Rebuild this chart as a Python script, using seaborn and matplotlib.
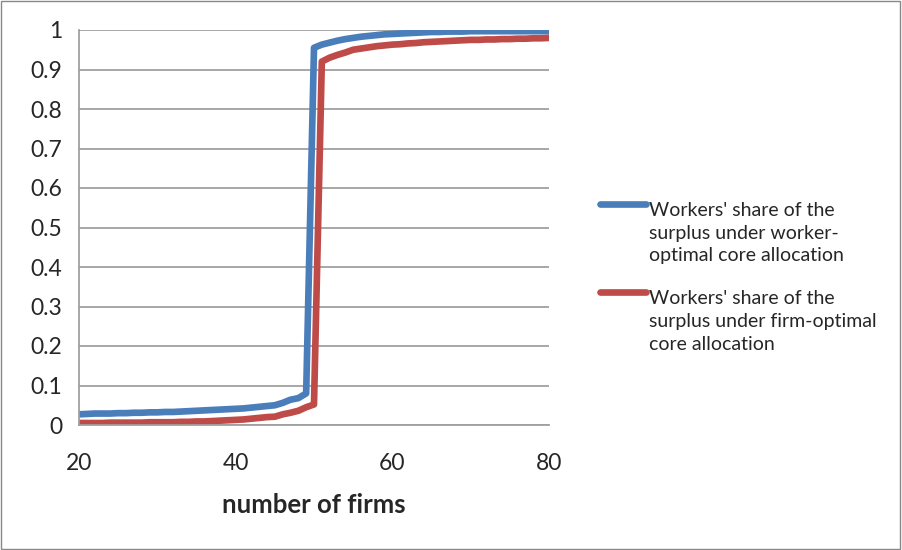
import numpy as np
import pandas as pd
import matplotlib.pyplot as plt
import seaborn as sns
from matplotlib.patches import Rectangle
from matplotlib.legend_handler import HandlerLine2D

# data
firms = list(range(20, 81))
worker_opt = [0.027, 0.028, 0.029, 0.029, 0.029, 0.030, 0.030, 0.031, 0.031, 0.032,
              0.032, 0.033, 0.033, 0.034, 0.035, 0.036, 0.037, 0.038, 0.039, 0.040,
              0.041, 0.042, 0.044, 0.046, 0.048, 0.050, 0.056, 0.064, 0.068, 0.080,
              0.955, 0.963, 0.968, 0.973, 0.977, 0.980, 0.983, 0.985, 0.987, 0.989,
              0.990, 0.991, 0.992, 0.993, 0.994, 0.995, 0.995, 0.996, 0.996, 0.996,
              0.997, 0.997, 0.997, 0.997, 0.997, 0.997, 0.997, 0.997, 0.997, 0.997,
              0.997]
firm_opt = [0.005, 0.005, 0.005, 0.005, 0.006, 0.006, 0.006, 0.006, 0.006, 0.007,
            0.007, 0.007, 0.007, 0.008, 0.008, 0.009, 0.009, 0.010, 0.011, 0.012,
            0.013, 0.014, 0.016, 0.018, 0.020, 0.021, 0.027, 0.031, 0.036, 0.045,
            0.052, 0.920, 0.930, 0.937, 0.943, 0.950, 0.953, 0.956, 0.959, 0.961,
            0.963, 0.964, 0.966, 0.967, 0.969, 0.970, 0.971, 0.972, 0.973, 0.974,
            0.975, 0.975, 0.976, 0.976, 0.977, 0.977, 0.978, 0.978, 0.979, 0.979,
            0.980]
labels = ["Workers' share of the\nsurplus under worker-\noptimal core allocation",
          "Workers' share of the\nsurplus under firm-optimal\ncore allocation"]

df = pd.DataFrame({
    'firms': firms * 2,
    'share': worker_opt + firm_opt,
    'series': [labels[0]] * len(firms) + [labels[1]] * len(firms),
})


# legend line sits level with the first text line, not the middle one
class TopLine(HandlerLine2D):
    def create_artists(self, legend, orig_handle, xdescent, ydescent,
                       width, height, fontsize, trans):
        arts = super().create_artists(legend, orig_handle, xdescent, ydescent,
                                      width, height, fontsize, trans)
        for a in arts:
            a.set_ydata(np.asarray(a.get_ydata()) + 21)
            a.set_solid_capstyle('round')
        return arts


sns.set_style('white')
plt.rcParams['font.family'] = ['Lato', 'DejaVu Sans']

fig = plt.figure(figsize=(9.02, 5.5), dpi=100)
ax = fig.add_axes([79 / 902, 1 - 425 / 550, 470 / 902, 395 / 550])

sns.lineplot(data=df, x='firms', y='share', hue='series',
             palette=['#4A7EBB', '#BE4B48'], linewidth=4.8, ax=ax)

ax.set_xlim(20, 80)
ax.set_ylim(0, 1)
ax.set_xticks([20, 40, 60, 80])
ax.set_yticks(np.arange(0, 1.01, 0.1))
ax.set_yticklabels(['0', '0.1', '0.2', '0.3', '0.4', '0.5', '0.6', '0.7', '0.8', '0.9', '1'])
ax.yaxis.grid(True, color='#a0a0a0', linewidth=1.3)
ax.set_axisbelow(True)
for s in ['top', 'right']:
    ax.spines[s].set_visible(False)
for s in ['left', 'bottom']:
    ax.spines[s].set_color('#a0a0a0')
    ax.spines[s].set_linewidth(1.3)
ax.tick_params(axis='both', direction='out', length=6, width=1.3, color='#a0a0a0',
               labelsize=16.5, pad=6)
ax.tick_params(axis='x', pad=14)
ax.set_xlabel('number of firms', fontsize=18.5, fontweight='bold', labelpad=14)
ax.set_ylabel('')

handles, labs = ax.get_legend_handles_labels()
leg = fig.legend(handles, labs, frameon=False, fontsize=14, loc='upper left',
                 bbox_to_anchor=(590 / 902, 1 - 192 / 550), borderpad=0,
                 handlelength=2.4, labelspacing=1.3, handletextpad=0.15,
                 handler_map={h: TopLine() for h in handles})
for t in leg.get_texts():
    t.set_linespacing(1.42)
if ax.get_legend():
    ax.get_legend().remove()

fig.add_artist(Rectangle((0.001, 0.001), 0.997, 0.997, transform=fig.transFigure,
                         fill=False, edgecolor='#888888', linewidth=1))

plt.savefig('out.png', dpi=100)
plt.close()
